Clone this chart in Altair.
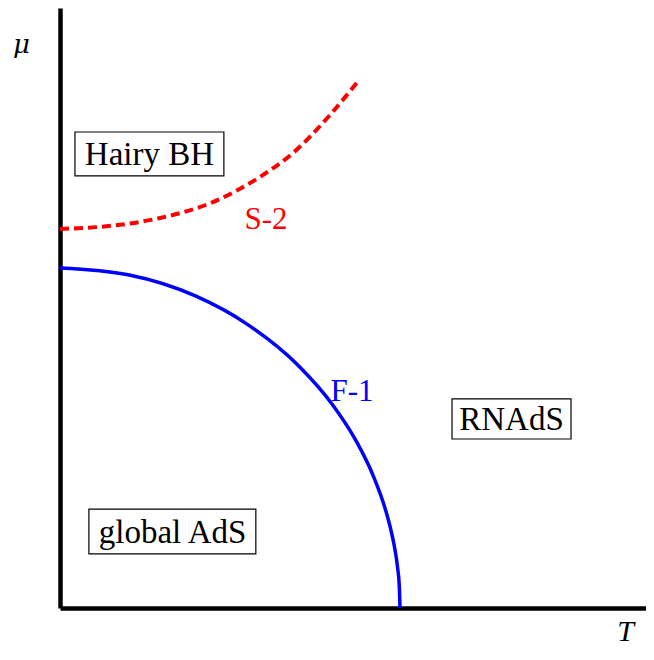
import altair as alt
import pandas as pd

# Phase boundaries (units: T, mu)
f1_T = [0.0, 0.2, 0.4, 0.55, 0.7, 0.8, 0.87, 0.92, 0.96, 0.975, 0.985, 0.993, 0.998, 1.0]
f1_mu = [1.0, 0.98, 0.917, 0.835, 0.714, 0.6, 0.493, 0.392, 0.28, 0.222, 0.173, 0.118, 0.063, 0.0]

s2_T = [0.0, 0.118, 0.294, 0.45, 0.588, 0.685, 0.794, 0.882]
s2_mu = [1.115, 1.121, 1.147, 1.194, 1.268, 1.338, 1.45, 1.556]

# Region labels
region_names = ["Hairy BH", "global AdS", "RNAdS"]
region_T = [0.263, 0.331, 1.328]
region_mu = [1.335, 0.225, 0.556]
box_T1 = [0.044, 0.085, 1.153]
box_T2 = [0.482, 0.576, 1.503]
box_mu1 = [1.271, 0.159, 0.497]
box_mu2 = [1.400, 0.291, 0.615]

curve_names = ["S-2", "F-1"]
curve_T = [0.606, 0.859]
curve_mu = [1.144, 0.638]
curve_colors = ["#ff0000", "#0000ff"]

X_MAX = 586 / 340
Y_MAX = 600 / 340
FONT = "Liberation Serif"

xs = alt.Scale(domain=[0, X_MAX], nice=False, zero=False)
ys = alt.Scale(domain=[0, Y_MAX], nice=False, zero=False)

f1 = pd.DataFrame({"T": f1_T, "mu": f1_mu, "o": range(len(f1_T))})
s2 = pd.DataFrame({"T": s2_T, "mu": s2_mu, "o": range(len(s2_T))})
regions = pd.DataFrame({"name": region_names, "T": region_T, "mu": region_mu,
                        "T1": box_T1, "T2": box_T2, "mu1": box_mu1, "mu2": box_mu2})
curves = pd.DataFrame({"name": curve_names, "T": curve_T, "mu": curve_mu, "c": curve_colors})

xaxis = alt.Axis(domainColor="black", domainWidth=4.5, ticks=False, labels=False, grid=False,
                 title="T", titleFont=FONT, titleFontSize=30, titleFontStyle="italic",
                 titleFontWeight="normal", titleX=565, titleY=23, titleAlign="center",
                 titleBaseline="middle", titleColor="black")
yaxis = alt.Axis(domainColor="black", domainWidth=4.5, ticks=False, labels=False, grid=False,
                 title="μ", titleFont="DejaVu Serif", titleFontSize=26, titleFontStyle="italic",
                 titleFontWeight="normal", titleX=-39, titleY=36, titleAngle=0,
                 titleAlign="center", titleBaseline="middle", titleColor="black")

blue = alt.Chart(f1).mark_line(color="#0000ff", strokeWidth=3.5, interpolate="monotone").encode(
    x=alt.X("T:Q", scale=xs, axis=xaxis),
    y=alt.Y("mu:Q", scale=ys, axis=yaxis),
    order="o:Q",
)
red = alt.Chart(s2).mark_line(color="#ff0000", strokeWidth=4, strokeDash=[9, 5],
                              interpolate="monotone").encode(
    x=alt.X("T:Q", scale=xs), y=alt.Y("mu:Q", scale=ys), order="o:Q")

boxes = alt.Chart(regions).mark_rect(fill="white", stroke="black", strokeWidth=1.2).encode(
    x=alt.X("T1:Q", scale=xs), x2="T2:Q",
    y=alt.Y("mu1:Q", scale=ys), y2="mu2:Q")
box_text = alt.Chart(regions).mark_text(font=FONT, fontSize=33, color="black",
                                        baseline="middle", align="center", dy=1).encode(
    x=alt.X("T:Q", scale=xs), y=alt.Y("mu:Q", scale=ys), text="name:N")
curve_text = alt.Chart(curves).mark_text(font=FONT, fontSize=31, baseline="middle",
                                         align="center", dy=1).encode(
    x=alt.X("T:Q", scale=xs), y=alt.Y("mu:Q", scale=ys), text="name:N",
    color=alt.Color("c:N", scale=None))

chart = alt.layer(blue, red, boxes, box_text, curve_text).properties(
    width=586, height=600,
    background="white",
    autosize=alt.AutoSizeParams(type="none"),
    padding={"left": 52, "top": 0, "right": 0, "bottom": 38},
).configure_axis(grid=False).configure_view(strokeWidth=0, stroke="transparent")

chart.save("out.html", embed_options={"renderer": "svg", "actions": False})
